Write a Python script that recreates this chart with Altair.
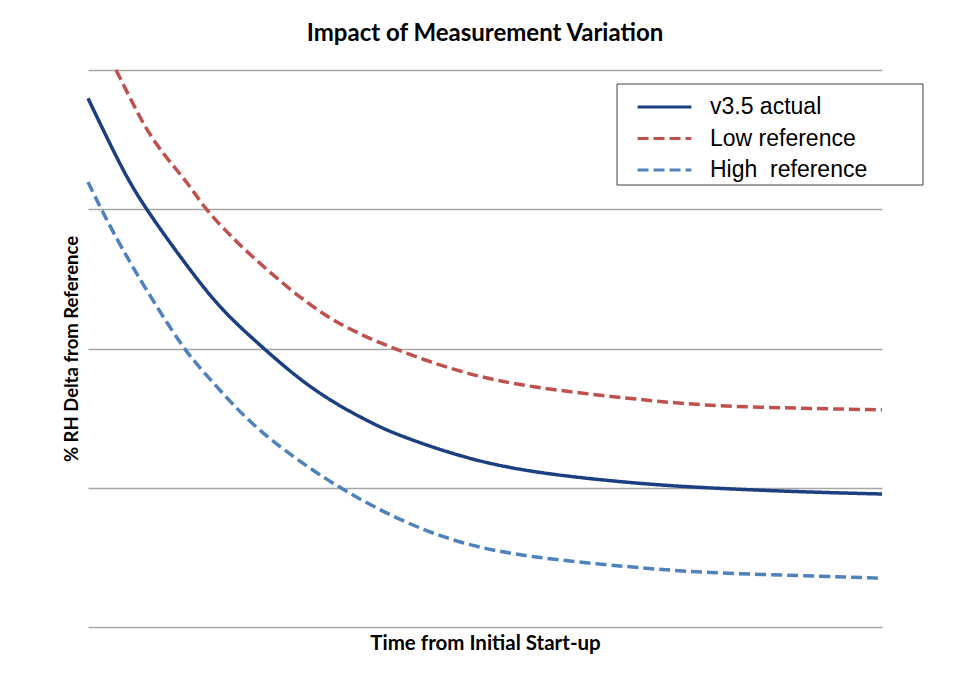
import altair as alt
import pandas as pd

# Series readings (time in arbitrary units 0-100, value in gridline units 0-4)
actual_t = [0, 2.52, 5.04, 7.34, 10.08, 12.59, 15.49, 18.26, 22.04, 26.70, 31.23, 35.89, 38.92,
            47.23, 55.67, 68.26, 77.1, 89.7, 100]
actual_v = [3.797, 3.497, 3.210, 3.002, 2.779, 2.585, 2.370, 2.200, 2.004, 1.774, 1.600, 1.460, 1.380,
            1.215, 1.110, 1.034, 1.00, 0.97, 0.955]

low_t = [3.53, 5.42, 7.56, 10.08, 12.59, 14.74, 17.63, 20.15, 25.44, 30.10, 33.88, 38.92,
         47.2, 55.7, 68.3, 77.1, 89.7, 100]
low_v = [4.00, 3.785, 3.548, 3.354, 3.188, 3.002, 2.829, 2.686, 2.420, 2.226, 2.111, 1.989,
         1.82, 1.72, 1.64, 1.59, 1.57, 1.56]

high_t = [0, 1.64, 4.16, 7.56, 11.96, 14.11, 18.4, 22.54, 30.48, 38.92, 47.2, 55.7, 68.3, 77.1, 89.7, 100]
high_v = [3.196, 3.002, 2.729, 2.399, 2.004, 1.860, 1.585, 1.357, 1.034, 0.77, 0.59, 0.50, 0.43, 0.39, 0.37, 0.35]

series_names = ["v3.5 actual", "\u00a0Low reference", "High\u00a0 reference"]
series_colors = ["#1B3F80", "#C0504D", "#4F81BD"]
series_dash = [[1, 0], [11, 5], [11, 5]]

rows = []
for name, ts, vs in zip(series_names, [actual_t, low_t, high_t], [actual_v, low_v, high_v]):
    for i, (t, v) in enumerate(zip(ts, vs)):
        rows.append({"series": name, "t": t, "v": v, "order": i})
df = pd.DataFrame(rows)

W, H = 794, 557

legend_cfg = dict(title=None, orient="none", legendX=548, legendY=26,
                  symbolType="stroke", symbolSize=2900, symbolStrokeWidth=3,
                  labelFont="Liberation Sans", labelFontSize=23, labelColor="#000000",
                  labelOffset=17, clipHeight=22, rowPadding=8.5, padding=0)

lines = alt.Chart(df).mark_line(strokeWidth=3.5, interpolate="basis").encode(
    x=alt.X("t:Q", scale=alt.Scale(domain=[0, 100], nice=False),
            axis=alt.Axis(title="Time from Initial Start-up", labels=False, ticks=False,
                          domain=False, grid=False, titlePadding=6,
                          titleFont="Lato", titleFontSize=20.5, titleFontWeight="bold",
                          titleColor="#000000")),
    y=alt.Y("v:Q", scale=alt.Scale(domain=[0, 4], nice=False),
            axis=alt.Axis(title="% RH Delta from Reference", labels=False, ticks=False,
                          domain=False, grid=True, values=[0, 1, 2, 3, 4],
                          gridColor="#A6A6A6", gridWidth=1.6, titlePadding=7,
                          minExtent=0, titleFont="Lato", titleFontSize=18.5,
                          titleFontWeight="bold", titleColor="#000000")),
    color=alt.Color("series:N", sort=series_names,
                    scale=alt.Scale(domain=series_names, range=series_colors),
                    legend=alt.Legend(**legend_cfg)),
    strokeDash=alt.StrokeDash("series:N", sort=series_names,
                              scale=alt.Scale(domain=series_names, range=series_dash),
                              legend=alt.Legend(**legend_cfg)),
    order="order:Q",
)

box = alt.Chart(alt.Data(values=[{}])).mark_rect(fill="white", stroke="#404040", strokeWidth=1).encode(
    x=alt.value(529), x2=alt.value(835), y=alt.value(14), y2=alt.value(115)
)

chart = alt.layer(box, lines).properties(
    width=W, height=H,
    title=alt.TitleParams("Impact of Measurement Variation", font="Lato", fontSize=24,
                          fontWeight="bold", color="#000000", anchor="middle", offset=17,
                          frame="group"),
    autosize=alt.AutoSizeParams(type="none"),
    padding={"left": 80, "top": 62, "right": 73, "bottom": 65},
).configure_view(stroke=None)

chart.save("out.html", embed_options={"renderer": "svg", "actions": False})
